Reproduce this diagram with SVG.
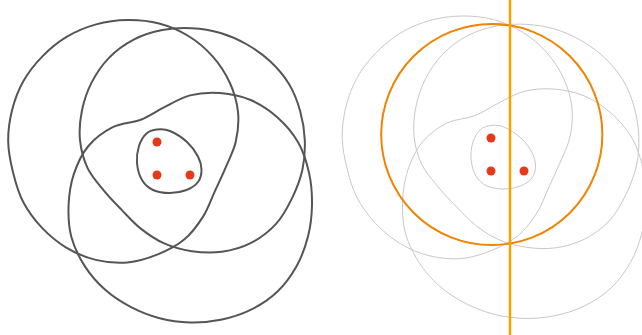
<svg xmlns="http://www.w3.org/2000/svg" width="642" height="335" viewBox="0 0 642 335">
<style>
.dark{fill:none;stroke:#555555;stroke-width:2}
.light{fill:none;stroke:#c8c8c8;stroke-width:1}
.dot{fill:#e5391c}
</style>
<defs>
<path id="cL" d="M127.5,20 C138,19.85 148.95,20.83 159.1,23.5 S179.48,30.52 188.4,36 S205.72,48.65 212.6,56.4 S225.47,73.25 229.7,82.5 S236.98,102.07 238,111.9 S237.88,132.18 235.8,141.5 S229.03,159.42 225.5,167.8 S218.37,183.62 214.6,191.8 S207.97,208.93 202.9,216.9 S191.72,233.35 184.2,239.6 S167.25,250.58 157.8,254.4 S137.83,261.58 127.5,262.5 S106.01,262.38 95.8,259.9 S75.28,253.02 66.25,247.6 S48.79,235.04 41.6,227.4 S27.87,210.95 23.1,201.75 S15.48,182.24 13,172.2 S8.37,151.78 8.2,141.5 S9.48,120.53 12,110.5 S18.23,90.37 23.3,81.35 S35.12,63.84 42.4,56.4 S58.05,42.03 67,36.7 S86.02,27.18 96.1,24.4 S117,20.15 127.5,20 Z"/>
<path id="cT" d="M191.8,28.3 C201.5,28.78 211.29,30.3 220.5,33 S238.73,39.73 247.05,44.5 S263.41,55 270.4,61.6 S284.03,75.83 289,84.1 S297.57,101.85 300.2,111.2 S304.43,130.43 304.8,140.2 S304.52,160.15 302.4,169.8 S296.53,189.03 292.1,198.1 S282.63,216.73 275.8,224.2 S260.12,238.3 251.1,242.9 S231.58,250.42 221.7,251.8 S201.38,252.6 191.8,251.2 S172.71,247.17 164.2,243.4 S147.8,234.15 140.75,228.6 S128.01,216.39 121.9,210.1 S109.82,197.85 104.1,190.85 S91.62,176.54 87.6,168.1 S80.95,149.76 80,140.2 S79.95,120.38 81.9,110.75 S87.15,91.26 91.7,82.4 S102.2,64.73 109.2,57.6 S124.85,44.18 133.7,39.6 S152.62,31.98 162.3,30.1 S182.1,27.82 191.8,28.3 Z"/>
<path id="cB" d="M190,95.4 C199.35,93.01 209.9,92.28 220,93.05 S241.01,95.97 250.6,100.04 S269.6,110.38 277.54,117.46 S292.99,133.23 298.25,142.5 S306.81,162.68 309.1,173.1 S312.18,194.42 312,205 S310.6,226.36 308,236.6 S301.57,257.22 296.4,266.45 S284.64,284.76 277,292 S259.93,305.27 250.55,309.9 S230.84,317.67 220.75,319.75 S200.18,322.66 190,322.4 S169.53,320.75 159.7,318.2 S140.13,311.83 131.05,307.1 S112.94,296.68 105.2,289.8 S90.25,274.68 84.6,265.85 S73.97,246.94 71.3,236.8 S68.17,215.48 68.6,205 S70.63,183.69 73.9,173.9 S81.8,154.02 88.2,146.25 S103.54,131.73 112.3,127.3 S132.15,123.02 140.75,119.7 S155.69,111.45 163.9,107.4 S180.65,97.79 190,95.4 Z"/>
<path id="cI" d="M157,129.5 C160.92,129.08 165,128.92 170,131 S182.33,137.75 187,142 S195.58,151.83 198,156.5 S201.5,165.75 201.5,170 S200.5,178.67 198,182 S191.17,188.17 186.5,190 S175.58,193 170,193 S157.67,192.17 153,190 S144.67,184.5 142,180 S137.5,168.67 137,163 S137.42,150.92 139,146 S143.5,136.25 146.5,133.5 S153.08,129.92 157,129.5 Z"/>
<g id="dots">
<circle class="dot" cx="157" cy="142" r="4.5"/>
<circle class="dot" cx="157" cy="175" r="4.5"/>
<circle class="dot" cx="190" cy="175" r="4.5"/>
</g>
</defs>
<g id="left">
<g id="left-curve-a"><use href="#cL" class="dark"/></g>
<g id="left-curve-b"><use href="#cT" class="dark"/></g>
<g id="left-curve-c"><use href="#cB" class="dark"/></g>
<g id="left-inner"><use href="#cI" class="dark"/></g>
<g id="left-points"><use href="#dots"/></g>
</g>
<g id="right" transform="translate(334,-4)">
<g id="right-curve-a"><use href="#cL" class="light"/></g>
<g id="right-curve-b"><use href="#cT" class="light"/></g>
<g id="right-curve-c"><use href="#cB" class="light"/></g>
<g id="right-inner"><use href="#cI" class="light"/></g>
</g>
<g id="right-circle"><circle cx="491.8" cy="134.5" r="110.6" fill="none" stroke="#f08300" stroke-width="2"/></g>
<g id="right-line"><line x1="510" y1="0" x2="510" y2="335" stroke="#f5a300" stroke-width="2.5"/></g>
<g id="right-points" transform="translate(334,-4)"><use href="#dots"/></g>
</svg>
